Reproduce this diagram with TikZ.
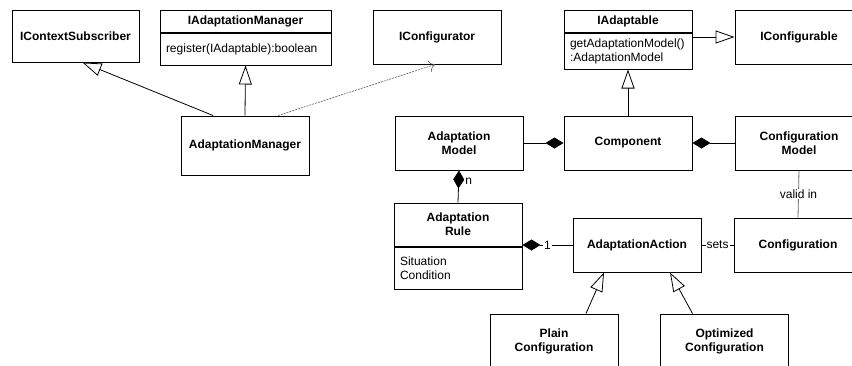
\documentclass[tikz,border=0pt]{standalone}
\usepackage{fontspec}
\setmainfont{Liberation Sans}
\usetikzlibrary{positioning,arrows.meta}

\begin{document}
\begin{tikzpicture}[x=1pt,y=-1pt,
  every node/.style={font=\fontsize{12}{14}\selectfont},
  cls/.style={draw, line width=1pt, minimum width=128pt, minimum height=54pt,
    align=center, inner sep=2pt, font=\fontsize{12}{14}\selectfont\bfseries},
  body/.style={draw, line width=1pt, align=left, inner xsep=6pt, inner ysep=2pt},
  gen/.style={line width=0.8pt, -{Triangle[open, length=19pt, width=13pt]}},
  dep/.style={line width=0.6pt, gray!70!black, dash pattern=on 2pt off 1pt,
    -{To[length=6pt, width=12pt]}},
  compos/.style={line width=0.8pt, -{Diamond[length=18pt, width=11pt]}},
  assoc/.style={line width=0.8pt},
  lbl/.style={fill=white, inner sep=1pt}]
  \useasboundingbox (0,0) rectangle (852,365);
  \clip (0,0) rectangle (852,365);

  % interfaces
  \node[cls, minimum width=127pt, minimum height=52pt] (ctxsub) at (75.5,36) {IContextSubscriber};
  \node[cls, minimum width=171pt, minimum height=22pt] (mgrhead) at (245.5,21) {IAdaptationManager};
  \node[body, below=0pt of mgrhead, text width=159pt, minimum height=32pt] (mgrbody)
    {register(IAdaptable):boolean};
  \node[cls] (cfgtor) at (437,37) {IConfigurator};
  \node[cls, minimum height=22pt] (adphead) at (628,21) {IAdaptable};
  \node[body, below=0pt of adphead, text width=116pt, minimum height=36pt] (adpbody)
    {getAdaptationModel()\\:AdaptationModel};
  \node[cls] (cfgable) at (799,37) {IConfigurable};

  % classes
  \node[cls, minimum height=59pt] (mgr) at (245,145.5) {AdaptationManager};
  \node[cls] (amodel) at (459,143) {Adaptation\\Model};
  \node[cls] (compo) at (628,143) {Component};
  \node[cls] (cmodel) at (799,143) {Configuration\\Model};
  \node[cls, minimum height=43pt] (rulehead) at (458,224.5) {Adaptation\\Rule};
  \node[body, below=0pt of rulehead, text width=116pt, minimum height=42pt] (rulebody)
    {Situation\\Condition};
  \node[cls] (action) at (637,245) {AdaptationAction};
  \node[cls] (config) at (798,245) {Configuration};
  \node[cls] (plain) at (554,341) {Plain\\Configuration};
  \node[cls] (optim) at (724.5,341) {Optimized\\Configuration};

  % connectors
  \draw[gen] ([xshift=-32pt]mgr.north) -- ([xshift=7pt]ctxsub.south);
  \draw[gen] (mgr.north) -- (mgrbody.south);
  \draw[dep] ([xshift=33pt]mgr.north) -- ([xshift=-2pt]cfgtor.south);
  \draw[gen] (adpbody.east |- cfgable.west) -- (cfgable.west);
  \draw[gen] (compo.north) -- (adpbody.south);
  \draw[compos] (amodel.east) -- (compo.west);
  \draw[compos] (cmodel.west) -- (compo.east);
  \draw[compos] (rulehead.north) -- node[pos=0.65, right=3pt] {n} (amodel.south);
  \draw[compos] (action.west) -- node[lbl] {1} (action.west -| rulehead.east);
  \draw[assoc] (action.east) -- node[lbl] {sets} (config.west);
  \draw[assoc, gray!80!black] (cmodel.south) -- node[lbl, text=black] {valid in} (config.north);
  \draw[gen] ([xshift=32pt]plain.north) -- ([xshift=-33pt]action.south);
  \draw[gen] ([xshift=-32pt]optim.north) -- ([xshift=33pt]action.south);
\end{tikzpicture}
\end{document}
